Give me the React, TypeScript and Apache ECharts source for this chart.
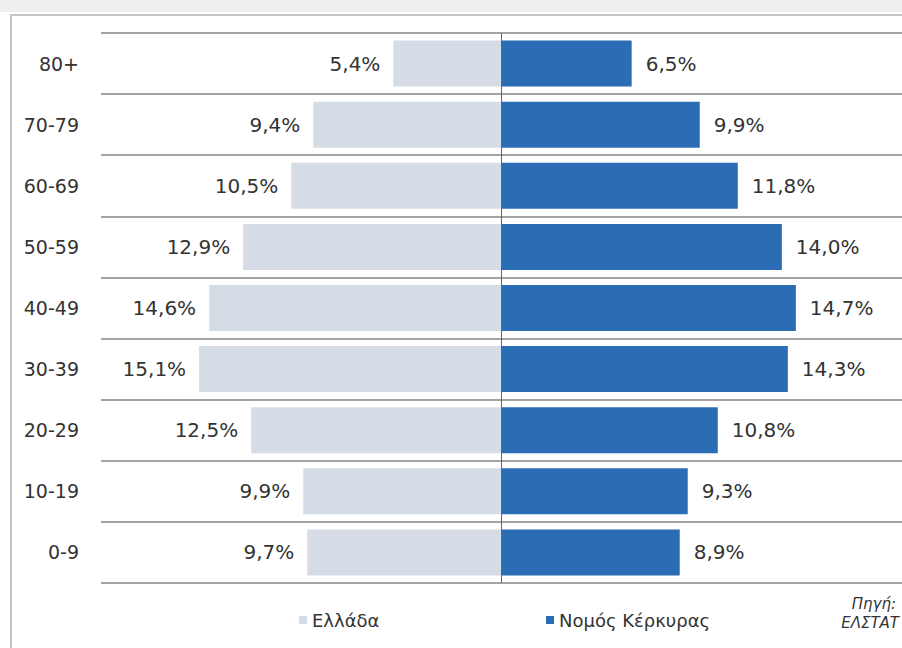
import React, { useEffect, useRef } from "react";
import * as echarts from "echarts";

const categories = ["0-9", "10-19", "20-29", "30-39", "40-49", "50-59", "60-69", "70-79", "80+"];
const greeceValues = [9.7, 9.9, 12.5, 15.1, 14.6, 12.9, 10.5, 9.4, 5.4];
const corfuValues = [8.9, 9.3, 10.8, 14.3, 14.7, 14.0, 11.8, 9.9, 6.5];
const seriesNames = ["Ελλάδα", "Νομός Κέρκυρας"];
const sourceLines = ["Πηγή:", "ΕΛΣΤΑΤ"];

const FONT = "DejaVu Sans, Verdana, sans-serif";
const fmt = (v: number) => Math.abs(v).toFixed(1).replace(".", ",") + "%";

export default function App() {
  const ref = useRef<HTMLDivElement>(null);
  useEffect(() => {
    document.body.style.margin = "0";
    const chart = echarts.init(ref.current!, null, { renderer: "svg" });
    chart.setOption({
      animation: false,
      backgroundColor: "#ffffff",
      grid: { left: 101, right: 0, top: 33, bottom: 65, containLabel: false },
      xAxis: {
        type: "value",
        min: -20,
        max: 20,
        show: false,
        splitLine: { show: false },
      },
      yAxis: {
        type: "category",
        data: categories,
        axisLine: { show: false },
        axisTick: { show: false },
        axisLabel: { color: "#333333", fontFamily: FONT, fontSize: 19, margin: 22 },
        splitLine: { show: true, lineStyle: { color: "#a3a3a3", width: 2 } },
      },
      legend: [
        {
          data: [seriesNames[0]],
          left: 294,
          top: 606,
          icon: "rect",
          itemWidth: 8,
          itemHeight: 8,
          itemGap: 4,
          textStyle: { color: "#333333", fontFamily: FONT, fontSize: 18 },
        },
        {
          data: [seriesNames[1]],
          left: 541,
          top: 606,
          icon: "rect",
          itemWidth: 8,
          itemHeight: 8,
          itemGap: 4,
          textStyle: { color: "#333333", fontFamily: FONT, fontSize: 18 },
        },
      ],
      graphic: [
        { type: "rect", shape: { x: 0, y: 0, width: 902, height: 12 }, style: { fill: "#efefef" }, z: -1 },
        {
          type: "rect",
          shape: { x: 11, y: 15, width: 900, height: 650 },
          style: { fill: "none", stroke: "#c4c4c4", lineWidth: 2 },
          z: -1,
        },
        {
          type: "text",
          right: 6,
          top: 596,
          style: { text: sourceLines[0], fill: "#333333", font: "italic 15px " + FONT, align: "right" },
        },
        {
          type: "text",
          right: 3,
          top: 615,
          style: { text: sourceLines[1], fill: "#333333", font: "italic 15px " + FONT, align: "right" },
        },
      ],
      series: [
        {
          name: seriesNames[0],
          type: "bar",
          stack: "pop",
          barWidth: 46,
          data: greeceValues.map((v) => -v),
          itemStyle: { color: "#d6dce6" },
          label: {
            show: true,
            position: "left",
            distance: 13,
            color: "#333333",
            fontFamily: FONT,
            fontSize: 20,
            formatter: (p: any) => fmt(p.value),
          },
          markLine: {
            silent: true,
            symbol: "none",
            label: { show: false },
            lineStyle: { color: "#666666", width: 1, type: "solid" },
            data: [{ xAxis: 0 }],
          },
        },
        {
          name: seriesNames[1],
          type: "bar",
          stack: "pop",
          barWidth: 46,
          data: corfuValues,
          itemStyle: { color: "#2b6db4" },
          label: {
            show: true,
            position: "right",
            distance: 14,
            color: "#333333",
            fontFamily: FONT,
            fontSize: 20,
            formatter: (p: any) => fmt(p.value),
          },
        },
      ],
    });
    return () => chart.dispose();
  }, []);
  return <div ref={ref} style={{ width: 902, height: 648, position: "fixed", left: 0, top: 0 }} />;
}
